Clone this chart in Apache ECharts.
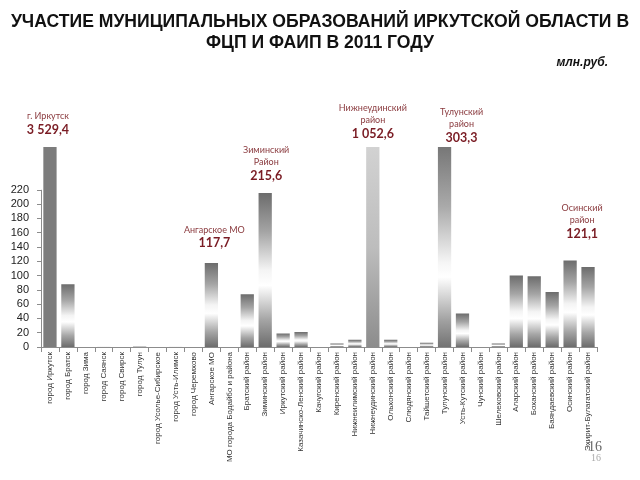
<!DOCTYPE html>
<html><head><meta charset="utf-8">
<script src="https://cdn.jsdelivr.net/npm/echarts@6/dist/echarts.min.js"></script>
<style>html,body{margin:0;padding:0;background:#fff}#c{width:640px;height:480px}</style>
</head><body><div id="c"></div>
<script>
const categories = [
  'город Иркутск', 'город Братск', 'город Зима', 'город Саянск', 'город Свирск',
  'город Тулун', 'город Усолье-Сибирское', 'город Усть-Илимск', 'город Черемхово',
  'Ангарское МО', 'МО города Бодайбо и района', 'Братский район', 'Зиминский район',
  'Иркутский район', 'Казачинско-Ленский район', 'Качугский район', 'Киренский район',
  'Нижнеилимский район', 'Нижнеудинский район', 'Ольхонский район', 'Слюдянский район',
  'Тайшетский район', 'Тулунский район', 'Усть-Кутский район', 'Чунский район',
  'Шелеховский район', 'Аларский район', 'Боханский район', 'Баяндаевский район',
  'Осинский район', 'Эхирит-Булагатский район'
];
const values = [
  3529.4, 88, 0, 1.5, 0,
  1, 0, 1.5, 0,
  117.7, 0, 74, 215.6,
  19, 21, 0, 5,
  10, 1052.6, 10, 0,
  6, 303.3, 47, 0,
  5, 100, 99, 77,
  121.1, 112
];
const yTicks = [0, 20, 40, 60, 80, 100, 120, 140, 160, 180, 200, 220];
const annotIndex = [0, 9, 12, 18, 22, 29];
const annotTitles = ['г. Иркутск', 'Ангарское МО', 'Зиминский\nРайон', 'Нижнеудинский\nрайон', 'Тулунский\nрайон', 'Осинский\nрайон'];
const annotOffsets = [[-2, -5], [3, -7], [1, -5], [0, -1], [17, 3], [12, -14]];

function fmt(v) {
  const parts = v.toFixed(1).split('.');
  const int = parts[0].replace(/\B(?=(\d{3})+(?!\d))/g, ' ');
  return int + ',' + parts[1];
}
function grad(stops) {
  return { type: 'linear', x: 0, y: 0, x2: 0, y2: 1, colorStops: stops.map(s => ({ offset: s[0], color: s[1] })) };
}
const baseGrad = grad([[0, '#6c6c6c'], [0.25, '#a4a4a4'], [0.5, '#f4f4f4'], [0.6, '#ffffff'], [0.82, '#a6a6a6'], [1, '#6c6c6c']]);
const specialColors = {
  0: '#7c7c7c',
  18: grad([[0, '#d2d2d2'], [0.5, '#bdbdbd'], [1, '#8c8c8c']]),
  22: grad([[0, '#777777'], [0.3, '#aaaaaa'], [0.58, '#f6f6f6'], [0.65, '#ffffff'], [0.87, '#a0a0a0'], [1, '#737373']])
};

const seriesData = values.map((v, i) => {
  const item = { value: v, itemStyle: { color: specialColors[i] || baseGrad } };
  const k = annotIndex.indexOf(i);
  if (k >= 0) {
    const lines = annotTitles[k].split('\n').map(t => '{n|' + t + '}');
    lines.push('{v|' + fmt(v) + '}');
    item.label = {
      show: true, position: 'top', offset: annotOffsets[k],
      formatter: lines.join('\n'),
      align: 'center',
      rich: {
        n: { fontSize: 9, color: '#8a3a3e', lineHeight: 12, fontFamily: 'Lato' },
        v: { fontSize: 12.5, fontWeight: 'bold', color: '#7a1c24', lineHeight: 15, fontFamily: 'Lato' }
      }
    };
  }
  return item;
});

const chart = echarts.init(document.getElementById('c'), null, { renderer: 'canvas' });
chart.setOption({
  animation: false,
  backgroundColor: '#ffffff',
  title: [
    { text: 'УЧАСТИЕ МУНИЦИПАЛЬНЫХ ОБРАЗОВАНИЙ ИРКУТСКОЙ ОБЛАСТИ В\nФЦП И ФАИП В 2011 ГОДУ',
      left: 'center', top: 7,
      textStyle: { fontSize: 17.6, fontWeight: 'bold', lineHeight: 21, color: '#111', fontFamily: 'Liberation Sans' } },
    { text: 'млн.руб.', right: 27, top: 52,
      textStyle: { fontSize: 12, fontWeight: 'bold', fontStyle: 'italic', color: '#111', fontFamily: 'Liberation Sans' } }
  ],
  grid: { left: 41, right: 43, top: 147, bottom: 133 },
  xAxis: {
    type: 'category', data: categories,
    axisLine: { lineStyle: { color: '#8c8c8c', width: 1 } },
    axisTick: { show: true, length: 5, lineStyle: { color: '#8c8c8c' } },
    axisLabel: { rotate: 90, interval: 0, fontSize: 8, color: '#333', margin: 5, fontFamily: 'Liberation Sans' }
  },
  yAxis: {
    type: 'value', min: 0, max: 280, interval: 20,
    splitLine: { show: false },
    axisLine: { show: false },
    axisTick: { show: true, length: 4, customValues: yTicks, lineStyle: { color: '#8c8c8c' } },
    axisLabel: { customValues: yTicks, formatter: v => (v <= 220 ? String(v) : ''), fontSize: 11, color: '#222', margin: 12, fontFamily: 'Liberation Sans' }
  },
  series: [{
    type: 'bar', data: seriesData, barCategoryGap: '26%', clip: true
  }]
});

const p0 = chart.convertToPixel({ xAxisIndex: 0, yAxisIndex: 0 }, [0, 0]);
const p1 = chart.convertToPixel({ xAxisIndex: 0, yAxisIndex: 0 }, [1, yTicks[yTicks.length - 1]]);
const band = p1[0] - p0[0];
const axisX = Math.round(p0[0] - band / 2) + 0.5;
chart.setOption({
  graphic: [
    { type: 'line', shape: { x1: axisX, y1: p1[1], x2: axisX, y2: p0[1] }, style: { stroke: '#8c8c8c', lineWidth: 1 }, z: 10 },
    { type: 'text', left: 588, top: 440, style: { text: '16', fontSize: 14, fill: '#666', fontFamily: 'Liberation Serif' }, z: 10 },
    { type: 'text', left: 591, top: 453, style: { text: '16', fontSize: 10, fill: '#aaa', fontFamily: 'Liberation Serif' }, z: 10 }
  ]
});
</script>
</body></html>
